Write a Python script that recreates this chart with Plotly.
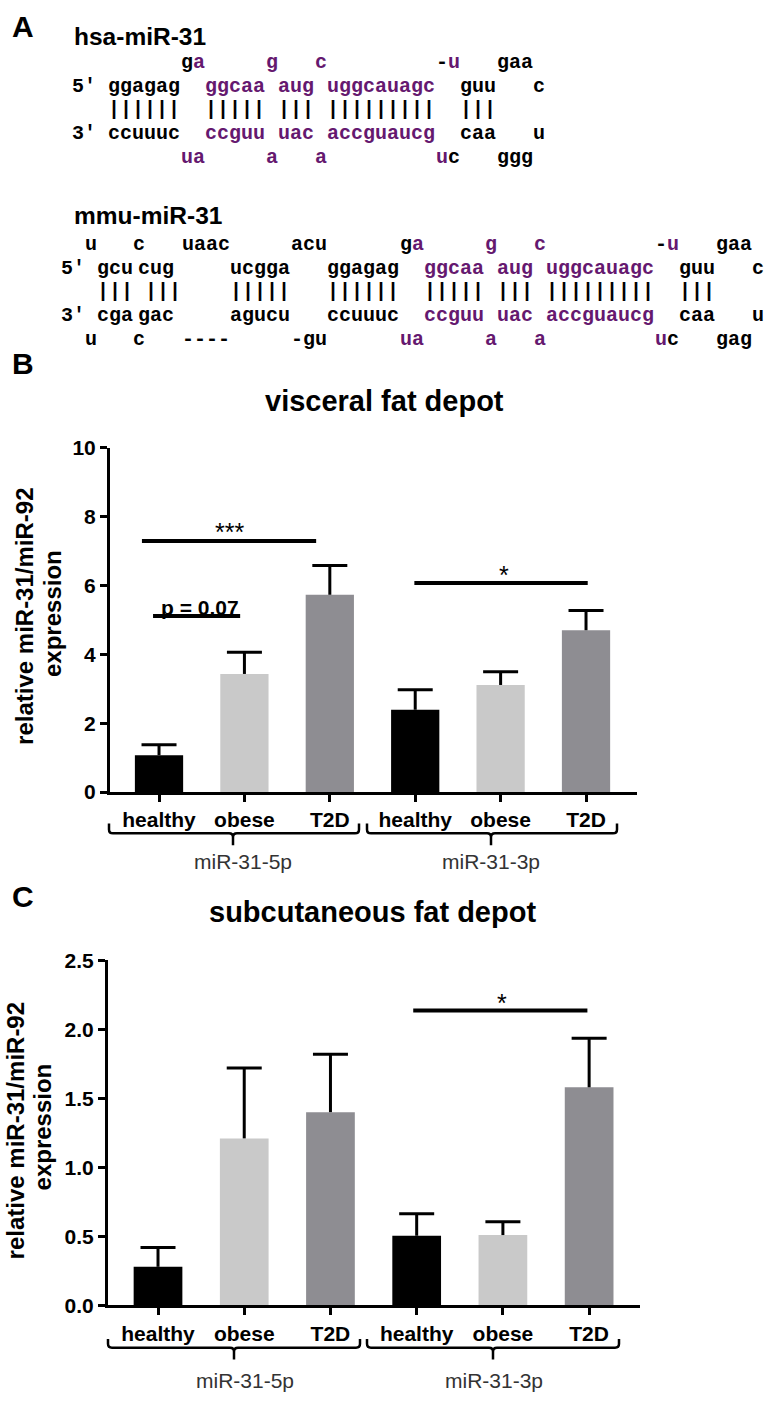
import plotly.graph_objects as go

W, H = 765, 1406

# ---------------- data ----------------
categories = ["healthy", "obese", "T2D", "healthy", "obese", "T2D"]
groups = ["miR-31-5p", "miR-31-3p"]
bar_colors = ["#000000", "#c9c9c9", "#8e8d92", "#000000", "#c9c9c9", "#8e8d92"]

visceral_mean = [1.07, 3.43, 5.73, 2.39, 3.11, 4.70]
visceral_sem = [0.30, 0.63, 0.85, 0.58, 0.38, 0.57]
subcut_mean = [0.28, 1.21, 1.40, 0.505, 0.51, 1.58]
subcut_sem = [0.14, 0.51, 0.42, 0.16, 0.097, 0.355]

visceral_sig_labels = ["***", "p = 0.07", "*"]
subcut_sig_labels = ["*"]

positions = list(range(len(categories)))

# ---------------- helpers ----------------
SANS = "Liberation Sans, Arial, sans-serif"
MONO = "Liberation Mono, Courier New, monospace"
PURPLE = "#65186f"
K = "#000000"


def px(x):
    return x / W


def py(y):
    return 1 - y / H


fig = go.Figure()


def add_panel(means, sems, xa, ya):
    fig.add_trace(go.Bar(x=positions, y=means, width=0.565,
                         marker=dict(color=bar_colors, line=dict(width=0)),
                         xaxis=xa, yaxis=ya, showlegend=False, hoverinfo="skip"))
    sx, sy = [], []
    for p, m, s in zip(positions, means, sems):
        sx += [p, p, None]
        sy += [m, m + s, None]
    fig.add_trace(go.Scatter(x=sx, y=sy, mode="lines", line=dict(color="black", width=3),
                             xaxis=xa, yaxis=ya, showlegend=False, hoverinfo="skip"))
    fig.add_trace(go.Scatter(x=positions, y=[m + s for m, s in zip(means, sems)], mode="markers",
                             marker=dict(symbol="line-ew", size=25, line=dict(color="black", width=3)),
                             xaxis=xa, yaxis=ya, showlegend=False, hoverinfo="skip"))


add_panel(visceral_mean, visceral_sem, "x", "y")
add_panel(subcut_mean, subcut_sem, "x2", "y2")

axis_common = dict(showgrid=False, zeroline=False, showline=True, linewidth=3, linecolor="black",
                   ticks="outside", ticklen=7, tickwidth=3, tickcolor="black",
                   tickfont=dict(family=SANS, size=21, color="black", weight="bold"), fixedrange=True)

fig.update_layout(
    width=W, height=H, margin=dict(l=0, r=0, t=0, b=0),
    paper_bgcolor="white", plot_bgcolor="white",
    xaxis=dict(domain=[px(110), px(637)], anchor="y", range=[-0.574, 5.597],
               tickmode="array", tickvals=positions, ticktext=categories, **axis_common),
    yaxis=dict(domain=[py(793), py(443)], anchor="x", range=[0, 10], dtick=2, tick0=0, **axis_common),
    xaxis2=dict(domain=[px(108), px(640)], anchor="y2", range=[-0.58, 5.59],
                tickmode="array", tickvals=positions, ticktext=categories, **axis_common),
    yaxis2=dict(domain=[py(1315), py(964)], anchor="x2", range=[0, 2.5], dtick=0.5, tick0=0,
                tickformat=".1f", **axis_common),
)

# ---------------- significance ----------------
def sig(label, x0, x1, yline, xt, yt, xa, ya, size, bold=False):
    fig.add_shape(type="line", x0=x0, x1=x1, y0=yline, y1=yline, xref=xa, yref=ya,
                  line=dict(color="black", width=4))
    fig.add_annotation(x=xt, y=yt, xref=xa, yref=ya, text=label, showarrow=False,
                       xanchor="center", yanchor="middle",
                       font=dict(family=SANS, size=size, color="black",
                                 weight="bold" if bold else "normal"))


sig(visceral_sig_labels[0], -0.2, 1.84, 7.29, 0.82, 7.54, "x", "y", 25)
sig(visceral_sig_labels[1], -0.07, 0.95, 5.11, 0.48, 5.37, "x", "y", 21, bold=True)
sig(visceral_sig_labels[2], 2.99, 5.02, 6.07, 4.04, 6.29, "x", "y", 25)
sig(subcut_sig_labels[0], 2.96, 4.98, 2.136, 3.99, 2.19, "x2", "y2", 25)

# ---------------- texts ----------------
def txt(text, x, y, size, bold=False, anchor="center", family=SANS, color="black", angle=0):
    fig.add_annotation(x=px(x), y=py(y), xref="paper", yref="paper", text=text, showarrow=False,
                       xanchor=anchor, yanchor="middle", textangle=angle,
                       font=dict(family=family, size=size, color=color,
                                 weight="bold" if bold else "normal"))


# panel letters
txt("A", 23, 14.5, 30, bold=True)
txt("B", 23, 357.5, 30, bold=True)
txt("C", 23, 899.5, 30, bold=True)

# chart titles
txt("visceral fat depot", 384, 395, 29, bold=True)
txt("subcutaneous fat depot", 372, 915, 29, bold=True)

# y-axis titles
txt("relative miR-31/miR-92", 25, 615, 24, bold=True, angle=-90)
txt("expression", 53, 612, 24, bold=True, angle=-90)
txt("relative miR-31/miR-92", 15, 1138, 24, bold=True, angle=-90)
txt("expression", 42, 1134, 24, bold=True, angle=-90)

# group brackets
def brace(xl, xr, xc, yline, ytop, ybot):
    r = 4
    path = (f"M {px(xl)},{py(ytop)} L {px(xl)},{py(yline - r)} Q {px(xl)},{py(yline)} {px(xl + r)},{py(yline)} "
            f"L {px(xc - r)},{py(yline)} Q {px(xc)},{py(yline)} {px(xc)},{py(yline + r)} L {px(xc)},{py(ybot)} "
            f"M {px(xc)},{py(yline + r)} Q {px(xc)},{py(yline)} {px(xc + r)},{py(yline)} "
            f"L {px(xr - r)},{py(yline)} Q {px(xr)},{py(yline)} {px(xr)},{py(yline - r)} L {px(xr)},{py(ytop)}")
    fig.add_shape(type="path", path=path, xref="paper", yref="paper",
                  line=dict(color="black", width=2.5))


brace(109, 359, 233, 835, 825, 847)
brace(367, 617, 491, 835, 825, 847)
brace(108, 360, 234, 1358, 1349, 1370)
brace(367, 619, 493, 1358, 1349, 1370)

txt(groups[0], 243, 864, 21, color="#333333")
txt(groups[1], 491, 864, 21, color="#333333")
txt(groups[0], 245, 1391, 21, color="#333333")
txt(groups[1], 494, 1391, 21, color="#333333")

# ---------------- panel A: hairpin structures ----------------
CW = 12.13
MSIZE = 20


def seq_rows(rows, x0):
    for y, tokens in rows:
        for col, t, color in tokens:
            fig.add_annotation(x=px(x0 + col * CW), y=py(y), xref="paper", yref="paper",
                               text=t.replace(" ", "\u00a0"), showarrow=False,
                               xanchor="left", yanchor="middle",
                               font=dict(family=MONO, size=MSIZE, color=color, weight="bold"))


txt("hsa-miR-31", 72, 24.5, 24.5, bold=True, anchor="left")
hsa_rows = [
    (51.5, [(9, "g", K), (10, "a", PURPLE), (16, "g", PURPLE), (20, "c", PURPLE),
            (30, "-", K), (31, "u", PURPLE), (35, "gaa", K)]),
    (75.5, [(0, "5\u2032", K), (3, "ggagag", K), (11, "ggcaa", PURPLE), (17, "aug", PURPLE),
            (21, "uggcauagc", PURPLE), (32, "guu", K), (38, "c", K)]),
    (99.5, [(3, "||||||", K), (11, "|||||", K), (17, "|||", K), (21, "|||||||||", K), (32, "|||", K)]),
    (123.5, [(0, "3\u2032", K), (3, "ccuuuc", K), (11, "ccguu", PURPLE), (17, "uac", PURPLE),
             (21, "accguaucg", PURPLE), (32, "caa", K), (38, "u", K)]),
    (147.5, [(9, "ua", PURPLE), (16, "a", PURPLE), (20, "a", PURPLE),
             (30, "u", PURPLE), (31, "c", K), (35, "ggg", K)]),
]
seq_rows(hsa_rows, 70)

txt("mmu-miR-31", 72, 206.5, 24.5, bold=True, anchor="left")
mmu_rows = [
    (236, [(2, "u", K), (6, "c", K), (10, "uaac", K), (19, "acu", K), (28, "g", K), (29, "a", PURPLE),
           (35, "g", PURPLE), (39, "c", PURPLE), (49, "-", K), (50, "u", PURPLE), (54, "gaa", K)]),
    (260.5, [(0, "5\u2032", K), (3, "gcu", K), (6.35, "cug", K), (14, "ucgga", K), (22, "ggagag", K),
             (30, "ggcaa", PURPLE), (36, "aug", PURPLE), (40, "uggcauagc", PURPLE), (51, "guu", K), (57, "c", K)]),
    (284.5, [(3, "|||", K), (7, "|||", K), (14, "|||||", K), (22, "||||||", K), (30, "|||||", K),
             (36, "|||", K), (40, "|||||||||", K), (51, "|||", K)]),
    (308.5, [(0, "3\u2032", K), (3, "cga", K), (6.35, "gac", K), (14, "agucu", K), (22, "ccuuuc", K),
             (30, "ccguu", PURPLE), (36, "uac", PURPLE), (40, "accguaucg", PURPLE), (51, "caa", K), (57, "u", K)]),
    (332.5, [(2, "u", K), (6, "c", K), (10, "----", K), (19, "-gu", K), (28, "ua", PURPLE),
             (35, "a", PURPLE), (39, "a", PURPLE), (49, "u", PURPLE), (50, "c", K), (54, "gag", K)]),
]
seq_rows(mmu_rows, 58.5)

fig.write_html("out.html", config={"displayModeBar": False},
               post_script="document.body.style.margin='0px';")
